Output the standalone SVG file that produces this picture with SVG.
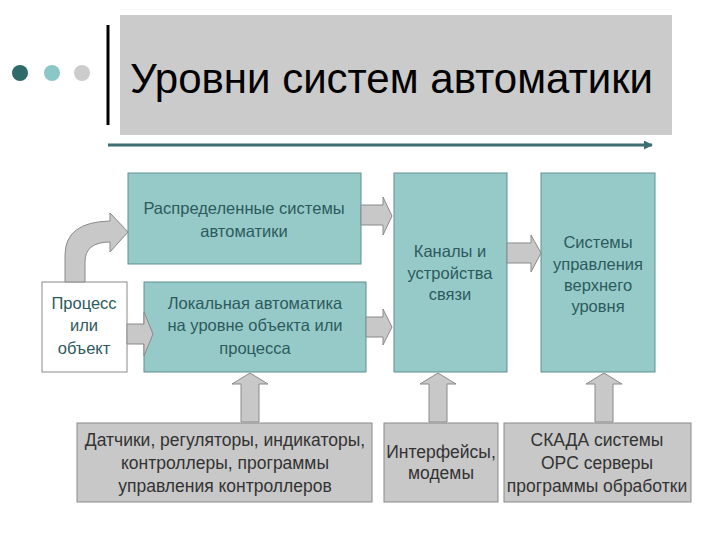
<svg xmlns="http://www.w3.org/2000/svg" width="720" height="540" viewBox="0 0 720 540">
<defs>
<marker id="ah" viewBox="0 0 10 10" refX="9" refY="5" markerWidth="3" markerHeight="3" orient="auto"><path d="M0,0 L10,5 L0,10 z" fill="#3d6d70"/></marker>
</defs>
<style>
.t{fill:#96cac9;stroke:#5f8f90;stroke-width:1}
.g{fill:#c8c8c8;stroke:#8a8a8a;stroke-width:1}
.w{fill:#fff;stroke:#8a8a8a;stroke-width:1}
.a{fill:#c8c8c8;stroke:#8a8a8a;stroke-width:1}
text{font-family:"Liberation Sans",Arial,sans-serif;text-anchor:middle}
.tx{font-size:16.5px;fill:#2d5a5c}
.gx{font-size:17.5px;fill:#333}
</style>
<rect width="720" height="540" fill="#fff"/>
<g id="header">
<rect x="120" y="15" width="552" height="120" fill="#cbcbcb"/>
<line x1="108" y1="25" x2="108" y2="125" stroke="#000" stroke-width="3"/>
<circle cx="20" cy="73" r="8" fill="#2f6b6b"/>
<circle cx="52" cy="73" r="8" fill="#8cc7c7"/>
<circle cx="82" cy="73" r="8" fill="#cccccc"/>
<text x="130" y="93" style="font-size:42px;text-anchor:start;fill:#000">Уровни систем автоматики</text>
<line x1="108" y1="145" x2="652" y2="145" stroke="#3d6d70" stroke-width="3" marker-end="url(#ah)"/>
</g>
<g id="n-distr"><rect class="t" x="128" y="173" width="233" height="91"/>
<text class="tx" x="244" y="214">Распределенные системы</text><text class="tx" x="244" y="237">автоматики</text></g>
<g id="n-local"><rect class="t" x="144" y="282" width="222" height="90"/>
<text class="tx" x="255" y="309">Локальная автоматика</text><text class="tx" x="255" y="331">на уровне объекта или</text><text class="tx" x="255" y="354">процесса</text></g>
<g id="n-proc"><rect class="w" x="42" y="282" width="85" height="90"/>
<text class="tx" x="84" y="309">Процесс</text><text class="tx" x="84" y="331">или</text><text class="tx" x="84" y="354">объект</text></g>
<g id="n-chan"><rect class="t" x="394" y="173" width="113" height="199"/>
<text class="tx" x="450" y="257">Каналы и</text><text class="tx" x="450" y="279">устройства</text><text class="tx" x="450" y="300">связи</text></g>
<g id="n-top"><rect class="t" x="541" y="173" width="114" height="199"/>
<text class="tx" x="598" y="248">Системы</text><text class="tx" x="598" y="270">управления</text><text class="tx" x="598" y="291">верхнего</text><text class="tx" x="598" y="312">уровня</text></g>
<g id="n-sens"><rect class="g" x="77" y="423" width="295" height="79"/>
<text class="gx" x="225" y="446">Датчики, регуляторы, индикаторы,</text><text class="gx" x="225" y="469">контроллеры, программы</text><text class="gx" x="225" y="492">управления контроллеров</text></g>
<g id="n-iface"><rect class="g" x="384" y="423" width="114" height="79"/>
<text class="gx" x="441" y="458">Интерфейсы,</text><text class="gx" x="441" y="479">модемы</text></g>
<g id="n-scada"><rect class="g" x="504" y="423" width="187" height="79"/>
<text class="gx" x="597" y="446">СКАДА системы</text><text class="gx" x="597" y="469">OPC серверы</text><text class="gx" x="597" y="492">программы обработки</text></g>
<g id="connectors">
<path class="a" d="M65,282 L65,255 Q65,222 110,221 L110,213 L128,232 L110,252 L110,242 Q85,242 85,262 L85,282 Z"/>
<path class="a" d="M127,324 L144,324 L144,312 L153,334 L144,356 L144,344 L127,344 Z"/>
<path class="a" d="M361,205 L383,205 L383,197 L392,216 L383,235 L383,225 L361,225 Z"/>
<path class="a" d="M366,317 L383,317 L383,309 L392,327 L383,345 L383,337 L366,337 Z"/>
<path class="a" d="M507,243 L531,243 L531,235 L541,253 L531,272 L531,263 L507,263 Z"/>
<path class="a" d="M241,422 L241,384 L232,384 L250,373 L268,384 L259,384 L259,422 Z"/>
<path class="a" d="M429,422 L429,384 L420,384 L438,373 L456,384 L447,384 L447,422 Z"/>
<path class="a" d="M595,422 L595,384 L586,384 L604,373 L622,384 L613,384 L613,422 Z"/>
</g>
</svg>
